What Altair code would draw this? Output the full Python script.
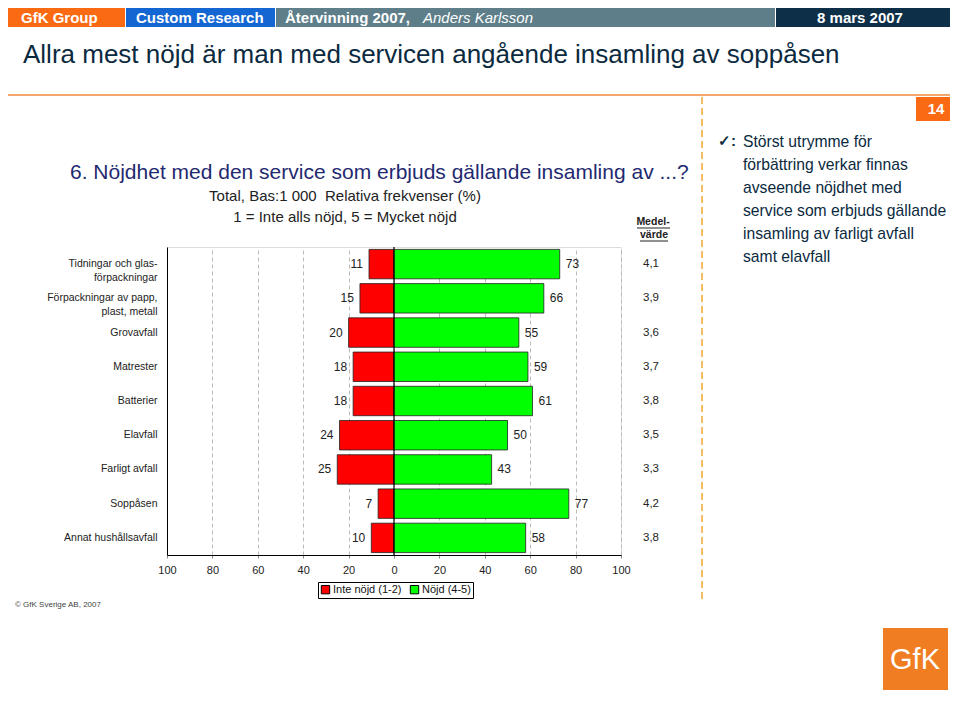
import altair as alt
import pandas as pd

# ---------------- data ----------------
categories = [
    "Tidningar och glas-|förpackningar",
    "Förpackningar av papp,|plast, metall",
    "Grovavfall",
    "Matrester",
    "Batterier",
    "Elavfall",
    "Farligt avfall",
    "Soppåsen",
    "Annat hushållsavfall",
]
inte_nojd = [11, 15, 20, 18, 18, 24, 25, 7, 10]
nojd = [73, 66, 55, 59, 61, 50, 43, 77, 58]
medelvarde = [4.1, 3.9, 3.6, 3.7, 3.8, 3.5, 3.3, 4.2, 3.8]
series = ["Inte nöjd (1-2)", "Nöjd (4-5)"]
series_colors = ["#FF0000", "#00FF00"]
x_ticks = [-100, -80, -60, -40, -20, 0, 20, 40, 60, 80, 100]

rows = []
for c, a, b, m in zip(categories, inte_nojd, nojd, medelvarde):
    rows.append({"cat": c, "serie": series[0], "val": -a, "zero": 0, "lab": str(a)})
    rows.append({"cat": c, "serie": series[1], "val": b, "zero": 0, "lab": str(b)})
df = pd.DataFrame(rows)
mean_df = pd.DataFrame({"cat": categories,
                        "m": [f"{v:.1f}".replace(".", ",") for v in medelvarde]})

FONT = "Liberation Sans"
NAVY = "#0B2A40"

# plot area placement in page pixels: origin (167, 247), size 454 x 308
W, H = 454, 308
PL, PT = 159, 239

one = pd.DataFrame({"k": [0]})


def txt(s, x, y, **kw):
    kw.setdefault("font", FONT)
    return alt.Chart(one).mark_text(text=s, **kw).encode(
        x=alt.value(x), y=alt.value(y))


def rect(x1, x2, y1, y2, color):
    return alt.Chart(one).mark_rect(color=color).encode(
        x=alt.value(x1), x2=alt.value(x2), y=alt.value(y1), y2=alt.value(y2))


def line(x1, x2, y1, y2, color, **kw):
    return alt.Chart(one).mark_rule(color=color, **kw).encode(
        x=alt.value(x1), x2=alt.value(x2), y=alt.value(y1), y2=alt.value(y2))


y_enc = alt.Y("cat:N", sort=categories, title=None,
              scale=alt.Scale(paddingInner=0.14, paddingOuter=0.07),
              axis=alt.Axis(labelExpr="split(datum.label, '|')", ticks=False,
                            labelPadding=10, labelFontSize=10.5, labelFont=FONT,
                            labelColor="#222222", labelLineHeight=14,
                            domainColor="black", grid=False))
x_scale = alt.Scale(domain=[-100, 100], nice=False)

bars = alt.Chart(df).mark_bar(stroke="#222222", strokeWidth=0.8).encode(
    x=alt.X("val:Q", scale=x_scale, title=None,
            axis=alt.Axis(values=x_ticks, labelExpr="abs(datum.value)",
                          labelFlush=False, labelOverlap=False,
                          grid=True, gridDash=[4, 3], gridColor="#BBBBBB",
                          domainColor="black", tickColor="#888888", tickSize=3,
                          labelPadding=6, labelFontSize=11, labelFont=FONT,
                          labelColor="#222222")),
    x2="zero:Q",
    y=y_enc,
    color=alt.Color("serie:N", scale=alt.Scale(domain=series, range=series_colors),
                    legend=alt.Legend(orient="none", legendX=151, legendY=335,
                                      direction="horizontal", title=None,
                                      strokeColor="black", fillColor="white",
                                      padding=2, symbolType="square",
                                      symbolSize=70, symbolStrokeColor="black",
                                      symbolStrokeWidth=1, labelFontSize=11,
                                      labelFont=FONT, labelColor="#111111",
                                      labelOffset=2, columnPadding=6)),
)

zero_rule = alt.Chart(pd.DataFrame({"x": [0]})).mark_rule(
    color="black", strokeWidth=1.2).encode(x=alt.X("x:Q", scale=x_scale))

lab_neg = alt.Chart(df).transform_filter(alt.datum.val < 0).mark_text(
    align="right", dx=-6, fontSize=12, font=FONT, color="#222222").encode(
    x=alt.X("val:Q", scale=x_scale), y=alt.Y("cat:N", sort=categories), text="lab:N")
lab_pos = alt.Chart(df).transform_filter(alt.datum.val > 0).mark_text(
    align="left", dx=6, fontSize=12, font=FONT, color="#222222").encode(
    x=alt.X("val:Q", scale=x_scale), y=alt.Y("cat:N", sort=categories), text="lab:N")
means = alt.Chart(mean_df).mark_text(
    align="center", fontSize=11.5, font=FONT, color="#222222").encode(
    x=alt.value(484), y=alt.Y("cat:N", sort=categories), text="m:N")

deco = [
    # header bar
    rect(-159, -42, -239, -220, "#FA6A12"),
    rect(-41, 108, -239, -220, "#1466D2"),
    rect(109, 608, -239, -220, "#5E7E89"),
    rect(609, 785, -239, -220, "#0E2F48"),
    txt("GfK Group", -146, -229, align="left", baseline="middle", fontSize=15,
        fontWeight="bold", color="white"),
    txt("Custom Research", -31, -229, align="left", baseline="middle", fontSize=15,
        fontWeight="bold", color="white"),
    txt("Återvinning 2007,", 118, -229, align="left", baseline="middle", fontSize=15,
        fontWeight="bold", color="white"),
    txt("Anders Karlsson", 256, -229, align="left", baseline="middle", fontSize=15,
        fontStyle="italic", color="white"),
    txt("8 mars 2007", 693, -229, align="center", baseline="middle", fontSize=15,
        fontWeight="bold", color="white"),
    # title
    txt("Allra mest nöjd är man med servicen angående insamling av soppåsen",
        -144, -192, align="left", baseline="middle", fontSize=26, color=NAVY),
    line(-159, 785, -152, -152, "#F08A3C", strokeWidth=1.5),
    rect(749, 785, -150, -126, "#FA6A12"),
    txt("14", 769, -138, align="center", baseline="middle", fontSize=15,
        fontWeight="bold", color="white"),
    line(535, 535, -150, 353, "#F0A830", strokeWidth=1.5, strokeDash=[7, 4]),
    # subtitle
    txt("6. Nöjdhet med den service som erbjuds gällande insamling av ...?",
        -97, -74, align="left", baseline="middle", fontSize=21, color="#1F2A70"),
    txt("Total, Bas:1 000\u00a0 Relativa frekvenser (%)", 178, -51, align="center",
        baseline="middle", fontSize=15, color="#222222"),
    txt("1 = Inte alls nöjd, 5 = Mycket nöjd", 178, -30, align="center",
        baseline="middle", fontSize=15, color="#222222"),
    txt("Medel-", 486, -25, align="center", baseline="middle", fontSize=10.5,
        fontWeight="bold", color="#222222"),
    txt("värde", 487, -12, align="center", baseline="middle", fontSize=10.5,
        fontWeight="bold", color="#222222"),
    line(470, 503, -19, -19, "#222222", strokeWidth=1),
    line(473, 501, -6, -6, "#222222", strokeWidth=1),
    # comment box
    txt("✓:", 551, -106, align="left", baseline="middle", fontSize=15,
        fontWeight="bold", color=NAVY),
    txt(["Störst utrymme för", "förbättring verkar finnas", "avseende nöjdhet med",
         "service som erbjuds gällande", "insamling av farligt avfall",
         "samt elavfall"],
        576, -100, align="left", baseline="alphabetic", fontSize=15.7,
        lineHeight=23, color=NAVY),
    # logo and copyright
    rect(716, 781, 381, 443, "#F07D22"),
    txt("GfK", 748, 413, align="center", baseline="middle", fontSize=29,
        color="white"),
    txt("© GfK Sverige AB, 2007", -152, 358, align="left", baseline="middle",
        fontSize=8, color="#444444"),
]

chart = alt.layer(bars, zero_rule, lab_neg, lab_pos, means, *deco).properties(
    width=W, height=H,
    autosize=alt.AutoSizeParams(type="none"),
    padding={"left": PL, "top": PT, "right": 944 - PL - W - 2, "bottom": 685 - PT - H - 2},
).configure_view(strokeWidth=0).configure(background="white")

chart.save("out.html", embed_options={"renderer": "svg", "actions": False})
